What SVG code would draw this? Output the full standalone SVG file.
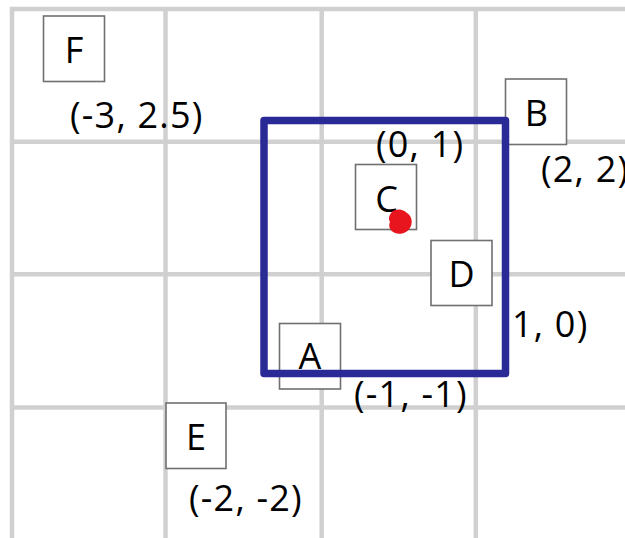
<svg xmlns="http://www.w3.org/2000/svg" width="625" height="538" viewBox="0 0 625 538">
<style>
.grid{stroke:#d0d0d0;stroke-width:4.5;fill:none}
.box{fill:#fff;stroke:#707070;stroke-width:1.6}
.lbl{font-family:"Open Sans","Noto Sans","Liberation Sans",sans-serif;font-size:36px;fill:#000}
.mid{text-anchor:middle}
.co{letter-spacing:1.2px}
</style>
<rect width="625" height="538" fill="#fff"/>
<g id="grid" class="grid">
<line x1="10" y1="9" x2="625" y2="9"/>
<line x1="12" y1="141.8" x2="625" y2="141.8"/>
<line x1="12" y1="274.3" x2="625" y2="274.3"/>
<line x1="12" y1="407.5" x2="625" y2="407.5"/>
<line x1="12" y1="7" x2="12" y2="538"/>
<line x1="165.5" y1="7" x2="165.5" y2="538"/>
<line x1="321.7" y1="7" x2="321.7" y2="538"/>
<line x1="475.8" y1="7" x2="475.8" y2="538"/>
</g>
<g id="F"><rect class="box" x="43.5" y="16" width="61" height="65.5"/></g>
<g id="B"><rect class="box" x="505.5" y="79" width="61" height="65.5"/></g>
<g id="C"><rect class="box" x="355.5" y="164.5" width="61" height="65"/></g>
<g id="D"><rect class="box" x="431" y="240.5" width="61" height="65"/></g>
<g id="A"><rect class="box" x="279.5" y="323.5" width="61" height="65.5"/></g>
<g id="E"><rect class="box" x="166" y="403" width="60" height="65.5"/></g>
<g id="connectors">
<rect x="264" y="120.5" width="241.5" height="253" fill="none" stroke="#2a2a96" stroke-width="7.5" stroke-linejoin="round"/>
</g>
<g id="labels" class="lbl">
<text class="mid" x="74" y="63">F</text>
<text class="co" x="70" y="128">(-3, 2.5)</text>
<text class="mid" x="536.5" y="126">B</text>
<text class="co" x="376" y="157">(0, 1)</text>
<text class="co" x="541" y="182">(2, 2)</text>
<text class="mid" x="386.5" y="212">C</text>
<text class="mid" x="461.5" y="287">D</text>
<text class="co" x="512" y="337">1, 0)</text>
<text class="mid" x="310" y="369">A</text>
<text class="co" x="354" y="407">(-1, -1)</text>
<text class="mid" x="196" y="450">E</text>
<text class="co" x="189" y="511">(-2, -2)</text>
</g>
<path id="dot" d="M391 213 C395 208 403 209 407 213 C412 216 413 223 410 228 C407 233 400 235 395 233 C390 231 388 226 390 222 C388 219 389 216 391 213 Z" fill="#e8141e"/>
</svg>
